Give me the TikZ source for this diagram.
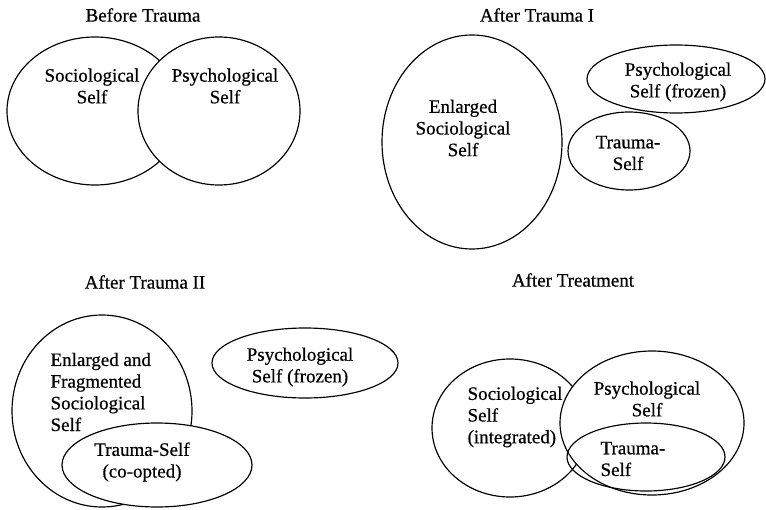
\documentclass[tikz,border=0pt]{standalone}
\usepackage{fontspec}
\setmainfont{Liberation Serif}[FakeBold=0.6]
\usepackage{tikz}
\usetikzlibrary{positioning}

\begin{document}
\begin{tikzpicture}[x=0.03cm, y=-0.03cm, line width=1pt,
                    lbl/.style={align=center, inner sep=0pt, font=\fontsize{16.2}{18.5}\selectfont},
                    lbll/.style={lbl, align=left, anchor=west},
                    cover/.style={fill=white}]
                        \useasboundingbox (0, 0) rectangle (766, 509);
                        % Before Trauma
                        \node[lbl] (t1) at (143, 15) {Before Trauma};
                        \draw (95, 111) ellipse (88 and 74);
                        \draw[cover] (219, 111) ellipse (81 and 74);
                        \node[lbl] (soc1) at (92, 86) {Sociological\\Self};
                        \node[lbl] (psy1) at (225, 86) {Psychological\\Self};
                        % After Trauma I
                        \node[lbl] (t2) at (537, 15) {After Trauma  I};
                        \draw
                        (472, 142) ellipse (90 and 107)
                        (676, 79) ellipse (89 and 34)
                        (629, 151) ellipse (61 and 39);
                        \node[lbl] (soc2) at (463, 128) {Enlarged\\Sociological\\Self};
                        \node[lbl] (psy2) at (678, 82) {Psychological\\Self (frozen)};
                        \node[lbl] (tra2) at (628, 153) {Trauma-\\Self};
                        % After Trauma II
                        \node[lbl] (t3) at (145, 282) {After Trauma II};
                        \draw (102, 411) ellipse (90 and 96);
                        \draw[cover] (157, 465) ellipse (95 and 42);
                        \draw (305, 363) ellipse (93 and 35);
                        \node[lbll] (soc3) at (50, 392) {Enlarged and\\Fragmented\\Sociological\\Self};
                        \node[lbl] (tra3) at (142, 462) {Trauma-Self\\(co-opted)};
                        \node[lbl] (psy3) at (300, 367) {Psychological\\Self (frozen)};
                        % After Treatment
                        \node[lbl] (t4) at (573, 280) {After Treatment};
                        \draw (510, 428) ellipse (78 and 69);
                        \draw[cover] (652, 423) ellipse (92 and 72);
                        \draw (646, 457) ellipse (79 and 34);
                        \node[lbll] (soc4) at (467, 417) {Sociological\\Self\\(integrated)};
                        \node[lbl] (psy4) at (647, 399) {Psychological\\Self};
                        \node[lbll] (tra4) at (600, 459) {Trauma-\\Self};
                    \end{tikzpicture}
\end{document}
